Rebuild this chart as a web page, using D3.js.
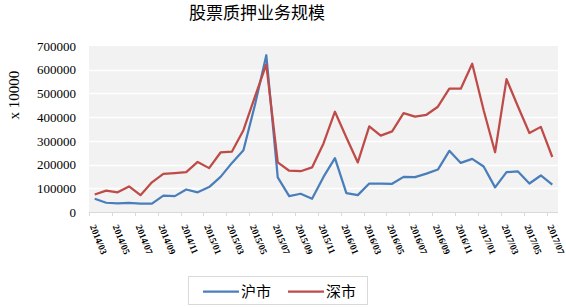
<!DOCTYPE html>
<html lang="zh">
<head>
    <meta charset="UTF-8">
    <title>股票质押业务规模</title>
    <style>
        body { margin: 0; background: #fff; }
        svg text { fill: #000; }
    </style>
</head>
<body>
<svg id="chart" width="566" height="308"></svg>
<script src="https://cdn.jsdelivr.net/npm/d3@7"></script>
<script>
    const months = ["2014/03", "2014/04", "2014/05", "2014/06", "2014/07", "2014/08", "2014/09", "2014/10",
        "2014/11", "2014/12", "2015/01", "2015/02", "2015/03", "2015/04", "2015/05", "2015/06", "2015/07",
        "2015/08", "2015/09", "2015/10", "2015/11", "2015/12", "2016/01", "2016/02", "2016/03", "2016/04",
        "2016/05", "2016/06", "2016/07", "2016/08", "2016/09", "2016/10", "2016/11", "2016/12", "2017/01",
        "2017/02", "2017/03", "2017/04", "2017/05", "2017/06", "2017/07"]
    const shanghai = [56000, 39000, 36000, 38000, 35000, 35000, 69000, 67000, 95000, 83000,
        105000, 148000, 207000, 260000, 450000, 661000, 146000, 67000, 77000, 56000,
        148000, 227000, 80000, 71000, 120000, 120000, 119000, 148000, 147000, 162000,
        179000, 258000, 207000, 224000, 192000, 104000, 168000, 171000, 120000, 154000, 115000]
    const shenzhen = [74000, 90000, 83000, 108000, 71000, 125000, 161000, 164000, 168000, 211000,
        185000, 251000, 255000, 345000, 485000, 622000, 209000, 174000, 172000, 188000,
        289000, 423000, 314000, 209000, 361000, 322000, 340000, 417000, 402000, 410000,
        444000, 520000, 520000, 625000, 429000, 252000, 560000, 445000, 333000, 359000, 232000]
    const yTicks = [0, 100000, 200000, 300000, 400000, 500000, 600000, 700000]
    const seriesNames = ["沪市", "深市"]
    const colors = ["#4a7ebb", "#be4b48"]

    const svg = d3.select("#chart")
    const plotLeft = 89, plotRight = 558, plotTop = 46, plotBottom = 212

    let x = d3.scaleBand().domain(months).range([plotLeft, plotRight])
    let y = d3.scaleLinear().domain([0, 700000]).range([plotBottom, plotTop])

    // plot background
    svg.append("rect")
        .attr("x", plotLeft).attr("y", plotTop)
        .attr("width", plotRight - plotLeft).attr("height", plotBottom - plotTop)
        .attr("fill", "#f2f2f2")

    // gridlines
    svg.append("g").selectAll("line")
        .data(yTicks.filter(d => d > 0 && d < 700000))
        .join("line")
        .attr("x1", plotLeft).attr("x2", plotRight)
        .attr("y1", d => Math.round(y(d)) + 0.5).attr("y2", d => Math.round(y(d)) + 0.5)
        .attr("stroke", "#fff").attr("stroke-width", 1.5)

    // y axis labels
    let yAxis = d3.axisLeft(y).tickValues(yTicks).tickSize(0).tickPadding(0).tickFormat(d3.format("d"))
    svg.append("g")
        .attr("transform", "translate(76,0)")
        .call(yAxis)
        .call(g => g.select(".domain").remove())
        .selectAll("text")
        .attr("font-family", "Liberation Serif")
        .attr("font-size", 13)
        .attr("fill", "#000")

    // x axis line + ticks between categories
    svg.append("line")
        .attr("x1", plotLeft).attr("x2", plotRight)
        .attr("y1", plotBottom + 0.5).attr("y2", plotBottom + 0.5)
        .attr("stroke", "#d9d9d9")
    const tickMonths = months.filter((d, i) => i % 2 == 0)
    svg.append("g").selectAll("line")
        .data(tickMonths)
        .join("line")
        .attr("x1", d => Math.round(x(d)) + 0.5).attr("x2", d => Math.round(x(d)) + 0.5)
        .attr("y1", plotBottom).attr("y2", plotBottom + 4)
        .attr("stroke", "#d9d9d9")

    svg.append("g").selectAll("text")
        .data(tickMonths)
        .join("text")
        .attr("transform", d => `translate(${x(d) + x.bandwidth() / 2 - 2},${plotBottom + 13}) rotate(68)`)
        .attr("font-family", "Liberation Serif")
        .attr("font-weight", "bold")
        .attr("font-size", 9.5)
        .attr("dy", "0.35em")
        .text(d => d)

    // lines
    let line = d3.line()
        .x((d, i) => x(months[i]) + x.bandwidth() / 2)
        .y(d => y(d))
    svg.append("g").selectAll("path")
        .data([shanghai, shenzhen])
        .join("path")
        .attr("d", d => line(d))
        .attr("fill", "none")
        .attr("stroke", (d, i) => colors[i])
        .attr("stroke-width", 2.25)
        .attr("stroke-linejoin", "round")

    // title
    svg.append("text")
        .attr("x", 257).attr("y", 19)
        .attr("text-anchor", "middle")
        .attr("font-family", "Noto Sans CJK SC")
        .attr("font-size", 17)
        .text("股票质押业务规模")

    // y label
    svg.append("text")
        .attr("transform", "translate(19,95) rotate(-90)")
        .attr("text-anchor", "middle")
        .attr("font-family", "Liberation Serif")
        .attr("font-size", 15)
        .text("x 10000")

    // legend
    let legend = svg.append("g")
    legend.append("rect")
        .attr("x", 188.5).attr("y", 276.5)
        .attr("width", 179).attr("height", 28)
        .attr("fill", "#fff").attr("stroke", "#d9d9d9")
    const legendX = [203, 288]
    seriesNames.forEach((name, i) => {
        legend.append("line")
            .attr("x1", legendX[i]).attr("x2", legendX[i] + 36)
            .attr("y1", 291.5).attr("y2", 291.5)
            .attr("stroke", colors[i]).attr("stroke-width", 2.25)
        legend.append("text")
            .attr("x", legendX[i] + 38).attr("y", 297)
            .attr("font-family", "Noto Sans CJK SC")
            .attr("font-size", 15)
            .text(name)
    })
</script>
</body>
</html>
